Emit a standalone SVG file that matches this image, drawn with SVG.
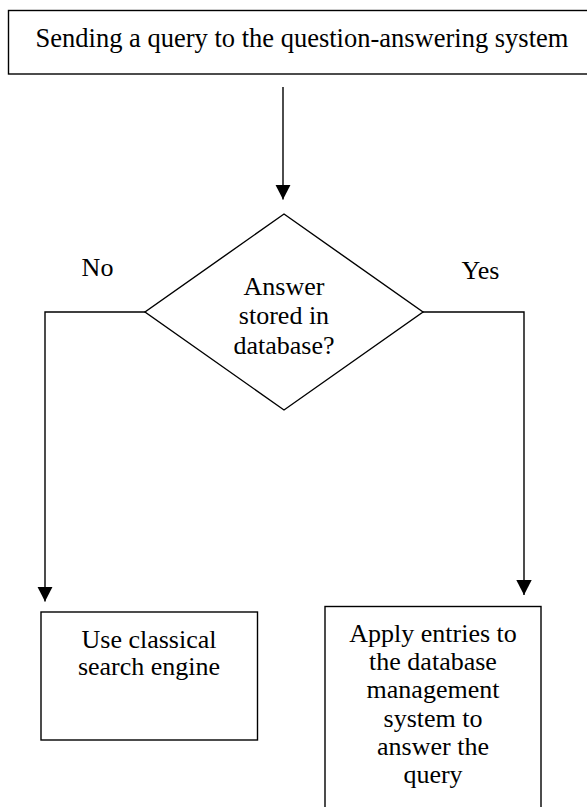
<svg xmlns="http://www.w3.org/2000/svg" width="587" height="807" viewBox="0 0 587 807">
<style>
  .shape { fill: #ffffff; stroke: #000000; stroke-width: 1.4; }
  .conn { fill: none; stroke: #000000; stroke-width: 1.4; }
  .t { font-family: 'Liberation Serif', 'Times New Roman', Times, 'DejaVu Serif', serif; font-size: 26px; fill: #000000; text-anchor: middle; }
</style>
<defs>
  <marker id="arrow" markerUnits="userSpaceOnUse" markerWidth="16" markerHeight="16" refX="15" refY="7.7" orient="auto">
    <path d="M0,0 L15,7.7 L0,15.4 z" fill="#000000"/>
  </marker>
</defs>
<rect width="587" height="807" fill="#ffffff"/>
<g id="start">
  <rect class="shape" x="8.5" y="10.5" width="590" height="63.5"/>
  <text class="t" x="302" y="46.5" font-family="Liberation Serif, serif" style="font-size:26.5px">Sending a query to the question-answering system</text>
</g>
<g id="decision">
  <polygon class="shape" points="284,214 423,312 284,410 145,312"/>
  <text class="t" x="284" y="295">Answer</text>
  <text class="t" x="284" y="324">stored in</text>
  <text class="t" x="284" y="354">database?</text>
</g>
<g id="search">
  <rect class="shape" x="41" y="612" width="216.5" height="128"/>
  <text class="t" x="149" y="648">Use classical</text>
  <text class="t" x="149" y="675">search engine</text>
</g>
<g id="apply">
  <rect class="shape" x="325" y="606.5" width="216" height="230"/>
  <text class="t" x="433" y="641.5">Apply entries to</text>
  <text class="t" x="433" y="670">the database</text>
  <text class="t" x="433" y="698">management</text>
  <text class="t" x="433" y="726.5">system to</text>
  <text class="t" x="433" y="755">answer the</text>
  <text class="t" x="433" y="783">query</text>
</g>
<g id="connectors">
  <path class="conn" d="M283,87 V199.5" marker-end="url(#arrow)"/>
  <path class="conn" d="M145,312 H45 V601.5" marker-end="url(#arrow)"/>
  <path class="conn" d="M423,312 H524 V595" marker-end="url(#arrow)"/>
  <text class="t" x="97.5" y="276">No</text>
  <text class="t" x="480.5" y="278.5">Yes</text>
</g>
</svg>
